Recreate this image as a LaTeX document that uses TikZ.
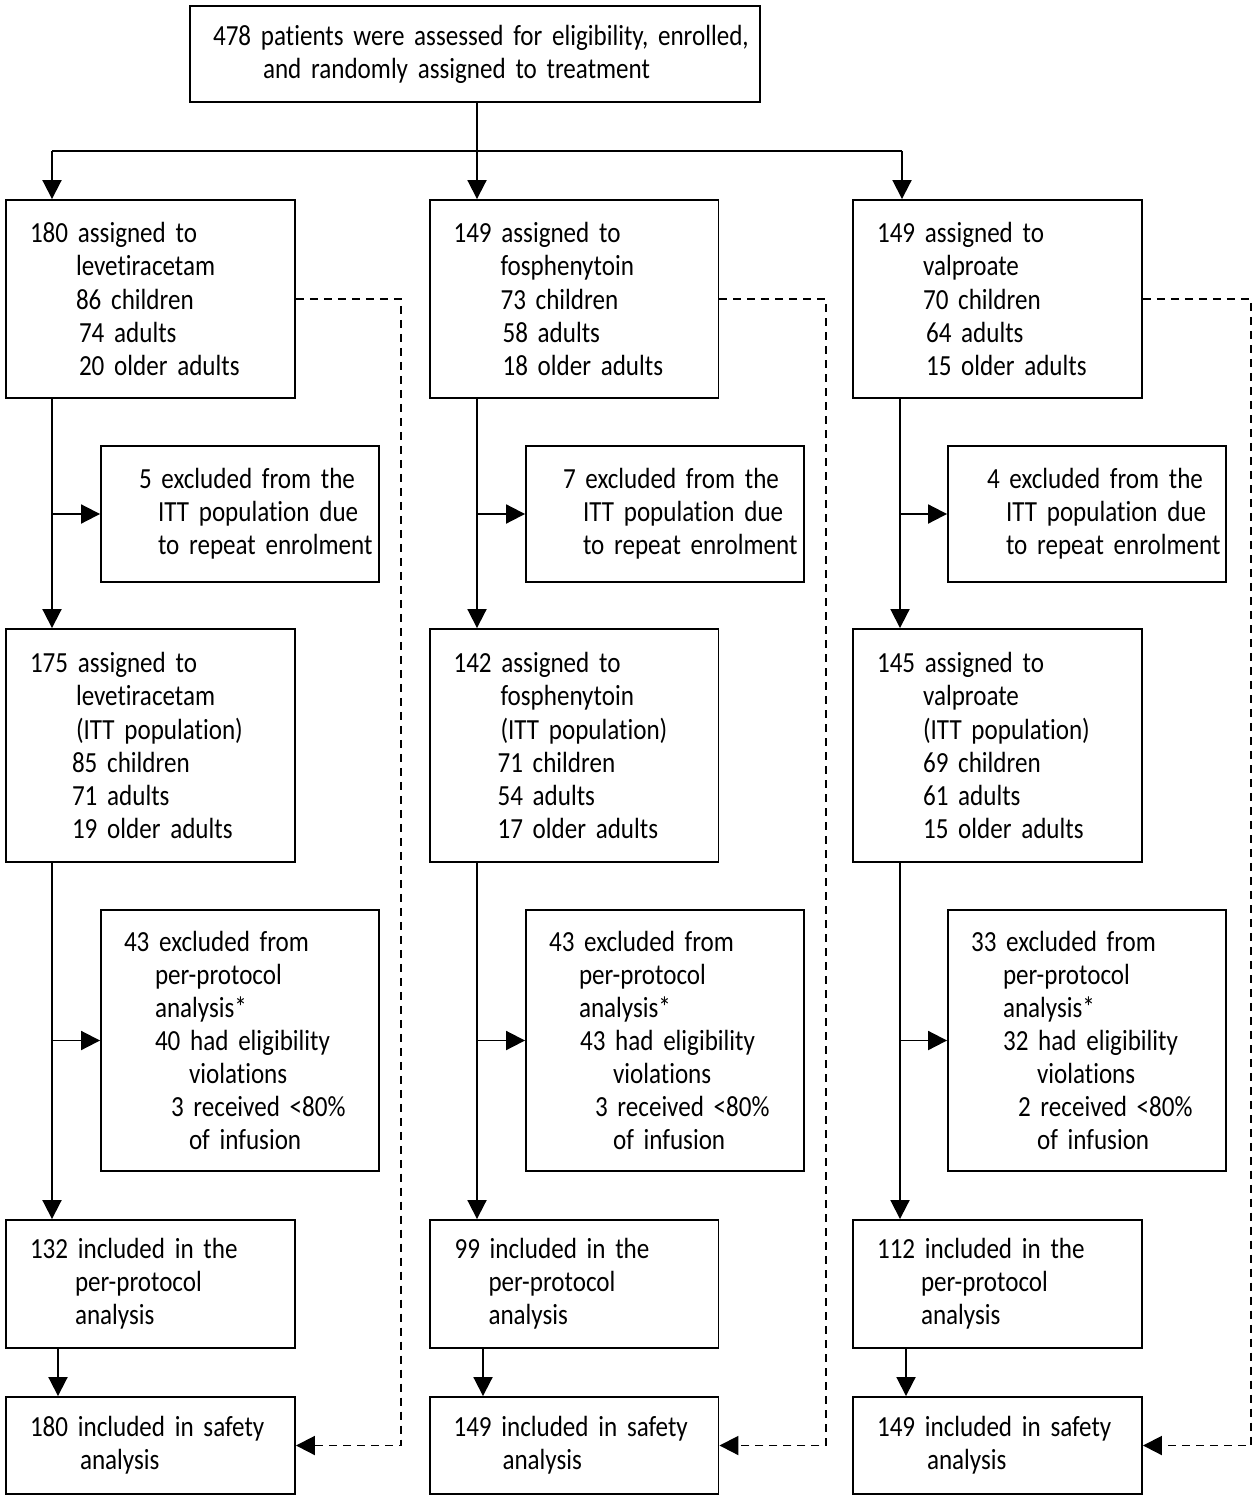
\documentclass[tikz,border=0pt]{standalone}
\usepackage{fontspec}
\setmainfont{Carlito}[FakeStretch=0.86, WordSpace=0.65, Ligatures=NoCommon]
\usetikzlibrary{arrows.meta}
\newlength\pxu \setlength\pxu{0.02cm}
\newcommand{\ind}[1]{\hspace*{#1\pxu}}
\hyphenpenalty=10000

\begin{document}
\begin{tikzpicture}[x=0.02cm, y=-0.02cm, line width=1.1pt, >={Triangle[length=3.8mm, width=3.8mm]},
	box/.style={draw, rectangle, inner xsep=0.1cm, inner ysep=0pt, align=left, font=\fontsize{16.6}{18.8}\selectfont},
	arm/.style={box, text width=5.58cm, minimum width=5.78cm},
	side/.style={box, text width=5.36cm, minimum width=5.56cm},
	dots/.style={dash pattern=on 0.16cm off 0.12cm}]
		\useasboundingbox (0,0) rectangle (1259,1500);

		\node[box, text width=11.2cm, minimum height=1.92cm] (top) at (475,54) {\ind{18}478 patients were assessed for eligibility, enrolled,\\ \ind{68}and randomly assigned to treatment};

		% levetiracetam
		\node[arm, minimum height=3.96cm] (levA) at (150.5,299) {\ind{19}180 assigned to\\ \ind{65}levetiracetam\\ \ind{65}86 children\\ \ind{68}74 adults\\ \ind{68}20 older adults};
		\node[side, minimum height=2.72cm] (levX) at (240,514) {\ind{33}5 excluded from the\\ \ind{52}ITT population due\\ \ind{52}to repeat enrolment};
		\node[arm, minimum height=4.66cm] (levB) at (150.5,745.5) {\ind{19}175 assigned to\\ \ind{65}levetiracetam\\ \ind{65}(ITT population)\\ \ind{61}85 children\\ \ind{61}71 adults\\ \ind{61}19 older adults};
		\node[side, minimum height=5.22cm] (levY) at (240,1040.5) {\ind{18}43 excluded from\\ \ind{49}per-protocol\\ \ind{49}analysis*\\ \ind{49}40 had eligibility\\ \ind{83}violations\\ \ind{65}3 received <80\%\\ \ind{83}of infusion};
		\node[arm, minimum height=2.56cm] (levC) at (150.5,1284) {\ind{19}132 included in the\\ \ind{64}per-protocol\\ \ind{64}analysis};
		\node[arm, minimum height=1.94cm] (levD) at (150.5,1445.5) {\ind{19}180 included in safety\\ \ind{69}analysis};

		% fosphenytoin
		\node[arm, minimum height=3.96cm] (fosA) at (574,299) {\ind{19}149 assigned to\\ \ind{66}fosphenytoin\\ \ind{66}73 children\\ \ind{68}58 adults\\ \ind{68}18 older adults};
		\node[side, minimum height=2.72cm] (fosX) at (665,514) {\ind{32}7 excluded from the\\ \ind{52}ITT population due\\ \ind{52}to repeat enrolment};
		\node[arm, minimum height=4.66cm] (fosB) at (574,745.5) {\ind{19}142 assigned to\\ \ind{66}fosphenytoin\\ \ind{66}(ITT population)\\ \ind{63}71 children\\ \ind{63}54 adults\\ \ind{63}17 older adults};
		\node[side, minimum height=5.22cm] (fosY) at (665,1040.5) {\ind{18}43 excluded from\\ \ind{48}per-protocol\\ \ind{48}analysis*\\ \ind{49}43 had eligibility\\ \ind{82}violations\\ \ind{64}3 received <80\%\\ \ind{82}of infusion};
		\node[arm, minimum height=2.56cm] (fosC) at (574,1284) {\ind{20}99 included in the\\ \ind{54}per-protocol\\ \ind{54}analysis};
		\node[arm, minimum height=1.94cm] (fosD) at (574,1445.5) {\ind{19}149 included in safety\\ \ind{68}analysis};

		% valproate
		\node[arm, minimum height=3.96cm] (valA) at (997.5,299) {\ind{19}149 assigned to\\ \ind{65}valproate\\ \ind{65}70 children\\ \ind{68}64 adults\\ \ind{68}15 older adults};
		\node[side, minimum height=2.72cm] (valX) at (1087,514) {\ind{34}4 excluded from the\\ \ind{53}ITT population due\\ \ind{53}to repeat enrolment};
		\node[arm, minimum height=4.66cm] (valB) at (997.5,745.5) {\ind{19}145 assigned to\\ \ind{65}valproate\\ \ind{65}(ITT population)\\ \ind{65}69 children\\ \ind{65}61 adults\\ \ind{65}15 older adults};
		\node[side, minimum height=5.22cm] (valY) at (1087,1040.5) {\ind{18}33 excluded from\\ \ind{50}per-protocol\\ \ind{50}analysis*\\ \ind{50}32 had eligibility\\ \ind{84}violations\\ \ind{65}2 received <80\%\\ \ind{84}of infusion};
		\node[arm, minimum height=2.56cm] (valC) at (997.5,1284) {\ind{19}112 included in the\\ \ind{63}per-protocol\\ \ind{63}analysis};
		\node[arm, minimum height=1.94cm] (valD) at (997.5,1445.5) {\ind{19}149 included in safety\\ \ind{69}analysis};

		\coordinate (split) at (477,151);
		\coordinate (bL) at (52,151);
		\coordinate (bR) at (902,151);
		\coordinate (cL) at (52,0);
		\coordinate (cM) at (477,0);
		\coordinate (cR) at (900,0);
		\coordinate (dL) at (58,0);
		\coordinate (dM) at (483,0);
		\coordinate (dR) at (906,0);
		\coordinate (eL) at (401,1445.5);
		\coordinate (eM) at (826,1445.5);
		\coordinate (eR) at (1251,1445.5);

		\draw[->] (top.south -| split) -- (fosA.north -| split);
		\draw (bL) -- (bR);
		\draw[->] (bL) -- (bL |- levA.north);
		\draw[->] (bR) -- (bR |- valA.north);

		\draw[->] (levA.south -| cL) -- (levB.north -| cL);
		\draw[->] (cL |- levX.west) -- (levX.west);
		\draw[->] (levB.south -| cL) -- (levC.north -| cL);
		\draw[->] (cL |- levY.west) -- (levY.west);
		\draw[->] (levC.south -| dL) -- (levD.north -| dL);
		\draw[dots, ->] (levA.east) -| (eL) -- (levD.east);

		\draw[->] (fosA.south -| cM) -- (fosB.north -| cM);
		\draw[->] (cM |- fosX.west) -- (fosX.west);
		\draw[->] (fosB.south -| cM) -- (fosC.north -| cM);
		\draw[->] (cM |- fosY.west) -- (fosY.west);
		\draw[->] (fosC.south -| dM) -- (fosD.north -| dM);
		\draw[dots, ->] (fosA.east) -| (eM) -- (fosD.east);

		\draw[->] (valA.south -| cR) -- (valB.north -| cR);
		\draw[->] (cR |- valX.west) -- (valX.west);
		\draw[->] (valB.south -| cR) -- (valC.north -| cR);
		\draw[->] (cR |- valY.west) -- (valY.west);
		\draw[->] (valC.south -| dR) -- (valD.north -| dR);
		\draw[dots, ->] (valA.east) -| (eR) -- (valD.east);
	\end{tikzpicture}
\end{document}
